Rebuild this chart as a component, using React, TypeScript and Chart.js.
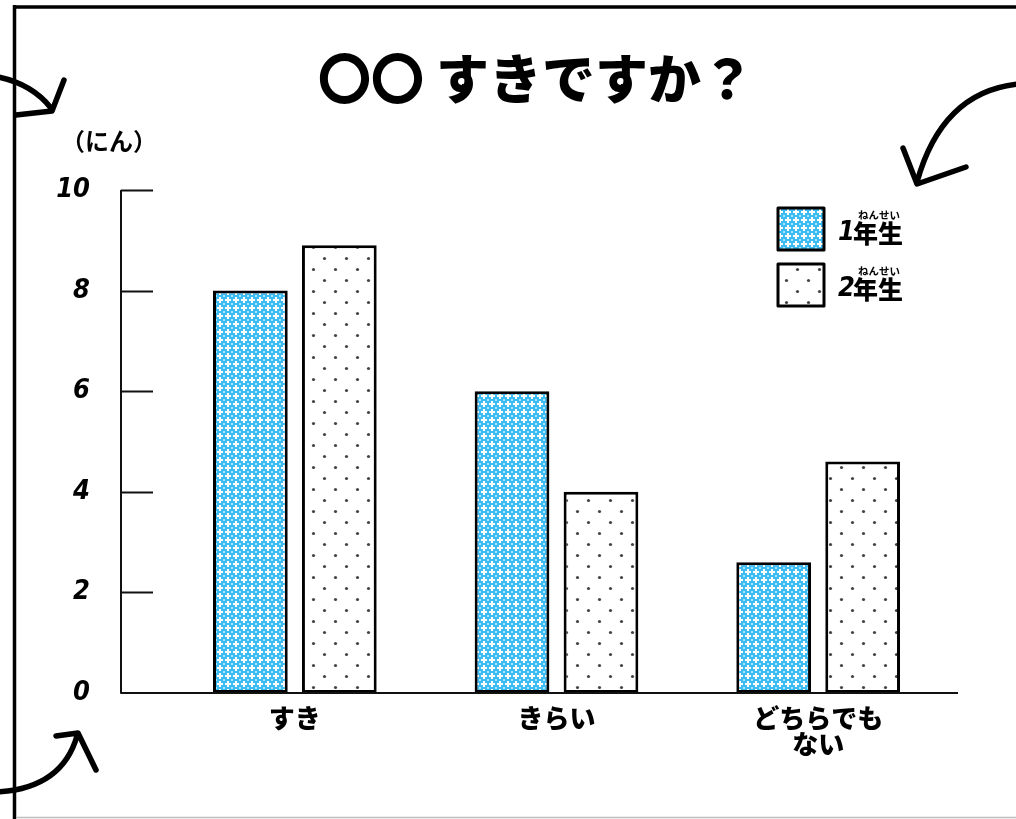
import React, { useEffect, useRef } from 'react';
import { Chart, registerables } from 'chart.js';

Chart.register(...registerables);

// ---- data ----
const categories: (string | string[])[] = ['すき', 'きらい', ['どちらでも', 'ない']];
const seriesLabels = ['1年生', '2年生'];
const grade1 = [8, 6, 2.6];
const grade2 = [8.9, 4, 4.6];
const yMin = 0;
const yMax = 10;
const yStep = 2;
const titleText = '〇〇 すきですか？';
const yAxisTitle = '（にん）';
const furigana = 'ねんせい';

const CJK = "'Noto Sans CJK JP', 'Noto Sans', sans-serif";
const NUM = "'Liberation Sans Narrow', 'DejaVu Sans Condensed', sans-serif";

function makeBluePattern(): CanvasPattern | string {
  const c = document.createElement('canvas');
  c.width = 8;
  c.height = 8;
  const g = c.getContext('2d');
  if (!g) return '#55c6f2';
  g.fillStyle = '#3cbcf0';
  g.fillRect(0, 0, 8, 8);
  g.fillStyle = '#ffffff';
  g.fillRect(3, 1, 2, 6);
  g.fillRect(1, 3, 6, 2);
  g.fillStyle = '#a8e4fb';
  g.fillRect(0, 0, 1, 1);
  g.fillRect(7, 7, 1, 1);
  g.fillRect(7, 0, 1, 1);
  g.fillRect(0, 7, 1, 1);
  const p = g.createPattern(c, 'repeat');
  return p || '#55c6f2';
}

function makeDotPattern(): CanvasPattern | string {
  const c = document.createElement('canvas');
  c.width = 22;
  c.height = 22;
  const g = c.getContext('2d');
  if (!g) return '#ffffff';
  g.fillStyle = '#ffffff';
  g.fillRect(0, 0, 22, 22);
  g.fillStyle = '#444444';
  g.beginPath();
  g.arc(5.5, 5.5, 1.6, 0, Math.PI * 2);
  g.fill();
  g.beginPath();
  g.arc(16.5, 16.5, 1.6, 0, Math.PI * 2);
  g.fill();
  const p = g.createPattern(c, 'repeat');
  return p || '#ffffff';
}

const decoPlugin = {
  id: 'deco',
  afterDraw(chart: any) {
    const ctx: CanvasRenderingContext2D = chart.ctx;
    const y = chart.scales.y;
    ctx.save();

    // frame
    ctx.strokeStyle = '#000';
    ctx.lineWidth = 3.5;
    ctx.beginPath();
    ctx.moveTo(14.5, 5);
    ctx.lineTo(14.5, 819);
    ctx.moveTo(13, 7);
    ctx.lineTo(1016, 7);
    ctx.stroke();
    ctx.strokeStyle = '#bdbdbd';
    ctx.lineWidth = 1.5;
    ctx.beginPath();
    ctx.moveTo(16, 817.5);
    ctx.lineTo(1016, 817.5);
    ctx.stroke();

    // arrows
    ctx.strokeStyle = '#000';
    ctx.lineWidth = 5.5;
    ctx.lineCap = 'round';
    ctx.lineJoin = 'round';
    ctx.beginPath();
    ctx.moveTo(-2, 77);
    ctx.quadraticCurveTo(32, 84, 51, 108);
    ctx.moveTo(64, 80);
    ctx.lineTo(52, 111);
    ctx.lineTo(16, 115);
    ctx.stroke();

    ctx.beginPath();
    ctx.moveTo(1018, 84);
    ctx.quadraticCurveTo(942, 92, 917, 182);
    ctx.moveTo(903, 148);
    ctx.lineTo(917, 184);
    ctx.lineTo(966, 167);
    ctx.stroke();

    ctx.beginPath();
    ctx.moveTo(-2, 792);
    ctx.quadraticCurveTo(62, 788, 77, 736);
    ctx.moveTo(56, 736);
    ctx.lineTo(78, 733);
    ctx.lineTo(96, 770);
    ctx.stroke();

    // axes
    const axisX = 121;
    const top = y.getPixelForValue(yMax);
    const bottom = y.getPixelForValue(yMin);
    ctx.lineCap = 'butt';
    ctx.lineWidth = 2;
    ctx.strokeStyle = '#111';
    ctx.beginPath();
    ctx.moveTo(axisX, top);
    ctx.lineTo(axisX, bottom);
    ctx.lineTo(958, bottom);
    for (const t of y.ticks) {
      if (t.value === yMin) continue;
      const py = Math.round(y.getPixelForValue(t.value)) + 0.5;
      ctx.moveTo(axisX, py);
      ctx.lineTo(153, py);
    }
    ctx.stroke();

    // y axis title
    ctx.fillStyle = '#000';
    ctx.textAlign = 'center';
    ctx.textBaseline = 'middle';
    ctx.font = `bold 24px ${CJK}`;
    ctx.fillText(yAxisTitle, 109, 141);

    // title
    ctx.font = `900 53px ${CJK}`;
    ctx.fillText(titleText, 536, 79);

    // legend
    chart.data.datasets.forEach((ds: any, i: number) => {
      const bx = 778;
      const by = 208 + i * 56;
      ctx.fillStyle = ds.backgroundColor;
      ctx.fillRect(bx, by, 46, 42);
      ctx.strokeStyle = '#000';
      ctx.lineWidth = 3;
      ctx.strokeRect(bx, by, 46, 42);
      const label: string = ds.label;
      const num = label.charAt(0);
      const rest = label.slice(1);
      const cy = by + 25;
      ctx.fillStyle = '#000';
      ctx.textAlign = 'left';
      ctx.textBaseline = 'middle';
      ctx.font = `italic bold 27px ${NUM}`;
      ctx.fillText(num, 838, cy);
      ctx.font = `900 25px ${CJK}`;
      ctx.fillText(rest, 853, cy);
      ctx.textAlign = 'center';
      ctx.font = `bold 10.5px ${CJK}`;
      ctx.fillText(furigana, 879, cy - 18);
    });

    ctx.restore();
  },
};

export default function App() {
  const ref = useRef<HTMLCanvasElement | null>(null);

  useEffect(() => {
    document.body.style.margin = '0';
    const canvas = ref.current;
    if (!canvas) return;
    const chart = new Chart(canvas, {
      type: 'bar',
      data: {
        labels: categories as any,
        datasets: [
          {
            label: seriesLabels[0],
            data: grade1,
            backgroundColor: makeBluePattern() as any,
            borderColor: '#000',
            borderWidth: 3,
            borderSkipped: false,
            categoryPercentage: 0.68,
            barPercentage: 0.84,
          },
          {
            label: seriesLabels[1],
            data: grade2,
            backgroundColor: makeDotPattern() as any,
            borderColor: '#000',
            borderWidth: 3,
            borderSkipped: false,
            categoryPercentage: 0.68,
            barPercentage: 0.84,
          },
        ],
      },
      options: {
        animation: false,
        responsive: true,
        maintainAspectRatio: false,
        layout: { padding: { top: 190, right: 67, bottom: 46, left: 0 } },
        plugins: {
          legend: { display: false },
          title: { display: false },
          tooltip: { enabled: false },
        },
        scales: {
          x: {
            grid: { display: false, drawTicks: false },
            border: { display: false },
            ticks: {
              color: '#000',
              font: { family: CJK, size: 26, weight: '900', lineHeight: 1.0 },
              padding: 12,
              maxRotation: 0,
              autoSkip: false,
            },
            afterFit: (s: any) => {
              s.height = 80;
            },
          },
          y: {
            min: yMin,
            max: yMax,
            grid: { display: false, drawTicks: false },
            border: { display: false },
            ticks: {
              stepSize: yStep,
              color: '#000',
              font: { family: NUM, size: 27, weight: 'bold', style: 'italic' },
              padding: 74,
            },
            afterFit: (s: any) => {
              s.width = 164;
            },
          },
        },
      },
      plugins: [decoPlugin],
    });
    return () => chart.destroy();
  }, []);

  return (
    <div style={{ width: 1016, height: 819, position: 'relative' }}>
      <canvas ref={ref} />
    </div>
  );
}
